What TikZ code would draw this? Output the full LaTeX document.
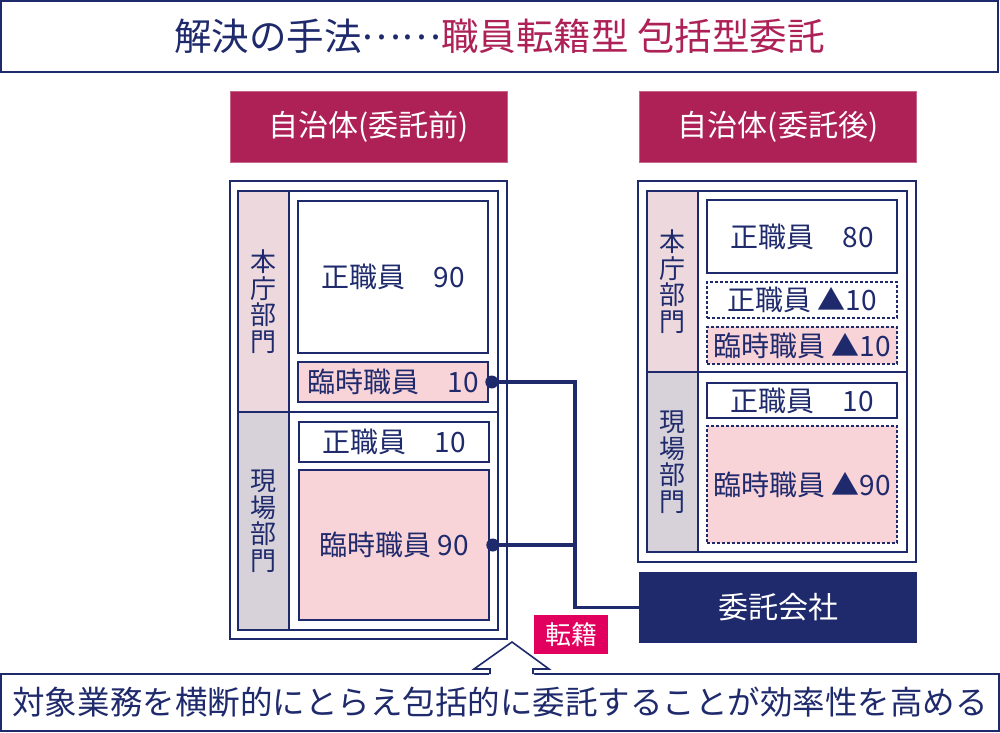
\documentclass[tikz,border=0pt]{standalone}
\usepackage{fontspec}
\setmainfont{Noto Sans CJK JP}
\usetikzlibrary{positioning}

\definecolor{navy}{HTML}{1F2A6C}
\definecolor{wine}{HTML}{AD2157}
\definecolor{rose}{HTML}{E2005F}
\definecolor{pinkfill}{HTML}{F8D3D8}
\definecolor{colpink}{HTML}{EDD9DD}
\definecolor{colgrey}{HTML}{D7D2DA}

\tikzset{
  frame/.style={draw=navy, line width=1.8pt},
  staffbox/.style={draw=navy, line width=1.6pt, minimum width=190pt, inner sep=0pt,
    text=navy, font=\fontsize{28}{28}\selectfont},
  tempbox/.style={staffbox, fill=pinkfill},
  movedbox/.style={staffbox, line width=1.3pt, dash pattern=on 3pt off 2pt},
  header/.style={fill=wine, draw=wine!70, minimum width=277pt, minimum height=71pt,
    text=white, font=\fontsize{30}{30}\selectfont},
  deptlabel/.style={draw=navy, line width=1.6pt, minimum width=51pt, inner sep=0pt,
    align=center, text=navy, font=\fontsize{26}{26.5}\selectfont},
  link/.style={draw=navy, line width=3.8pt},
}

\begin{document}
\begin{tikzpicture}[x=1pt,y=-1pt]
\useasboundingbox (0,0) rectangle (1000,732);

% title
\node[frame, minimum width=997pt, minimum height=71pt, font=\fontsize{37.5}{37.5}\selectfont] (title) at (499.5,36.5)
  {\textcolor{navy}{解決の手法\raisebox{.3em}{……}}\textcolor{wine}{職員転籍型 包括型委託}};

\node[header] (before) at (368.5,126.5) {自治体(委託前)};
\node[header] (after) at (778,126.5) {自治体(委託後)};

% before
\draw[frame] (230,181) rectangle (507,639);
\draw[frame] (238,191) rectangle (498,630);
\draw[frame] (238,412) -- (498,412);
\node[deptlabel, fill=colpink, minimum height=221pt] (honcho) at (263.5,301.5) {本\\庁\\部\\門};
\node[deptlabel, fill=colgrey, minimum height=218pt] (genba) at (263.5,521) {現\\場\\部\\門};
\node[staffbox, minimum height=152pt] (reg90) at (393,277) {正職員　90};
\node[tempbox, minimum height=40pt] (tmp10) at (393,382) {臨時職員　10};
\node[staffbox, minimum height=40pt] (reg10) at (394,442) {正職員　10};
\node[tempbox, minimum height=150pt] (tmp90) at (394,545) {臨時職員 90};

% after
\draw[frame] (638,181) rectangle (916,562);
\draw[frame] (647,191) rectangle (907,552);
\draw[frame] (647,372) -- (907,372);
\node[deptlabel, fill=colpink, minimum height=181pt] (honcho2) at (672.5,281.5) {本\\庁\\部\\門};
\node[deptlabel, fill=colgrey, minimum height=180pt] (genba2) at (672.5,462) {現\\場\\部\\門};
\node[staffbox, minimum height=73pt] (reg80) at (802,236.5) {正職員　80};
\node[movedbox, minimum height=36pt] (regcut) at (802,300) {正職員 ▲10};
\node[movedbox, fill=pinkfill, minimum height=37pt] (tmpcut) at (802,345.5) {臨時職員 ▲10};
\node[staffbox, minimum height=35pt] (reg10b) at (802,400.5) {正職員　10};
\node[movedbox, fill=pinkfill, minimum height=117pt] (tmpcut90) at (802,484.5) {臨時職員 ▲90};

% company + transfer
\node[fill=navy, minimum width=278pt, minimum height=71pt, text=white,
  font=\fontsize{30}{30}\selectfont] (company) at (778,607.5) {委託会社};
\coordinate (trunk) at (575,0);
\draw[link] (tmp10.east) -| (trunk |- company.west) -- (company.west);
\draw[link] (tmp90.east) -- (tmp90.east -| trunk);
\fill[navy] ([xshift=3pt]tmp10.east) circle (6.5pt);
\fill[navy] ([xshift=3pt]tmp90.east) circle (6.5pt);
\node[fill=rose, minimum width=74pt, minimum height=39pt, text=white,
  font=\fontsize{26}{26}\selectfont] (tenseki) at (571,634.5) {転籍};

% bottom note with arrow
\node[frame, minimum width=998pt, minimum height=57pt, text=navy,
  font=\fontsize{32.5}{32.5}\selectfont] (note) at (500,702.5)
  {対象業務を横断的にとらえ包括的に委託することが効率性を高める};
\fill[white] (489,677) -- (489,669) -- (474,669) -- (512,642) -- (549,669) -- (534,669) -- (534,677) -- cycle;
\draw[navy, line width=1.6pt] (490,674) -- (490,669) -- (474,669) -- (512,642) -- (549,669) -- (533,669) -- (533,674);

\end{tikzpicture}
\end{document}
